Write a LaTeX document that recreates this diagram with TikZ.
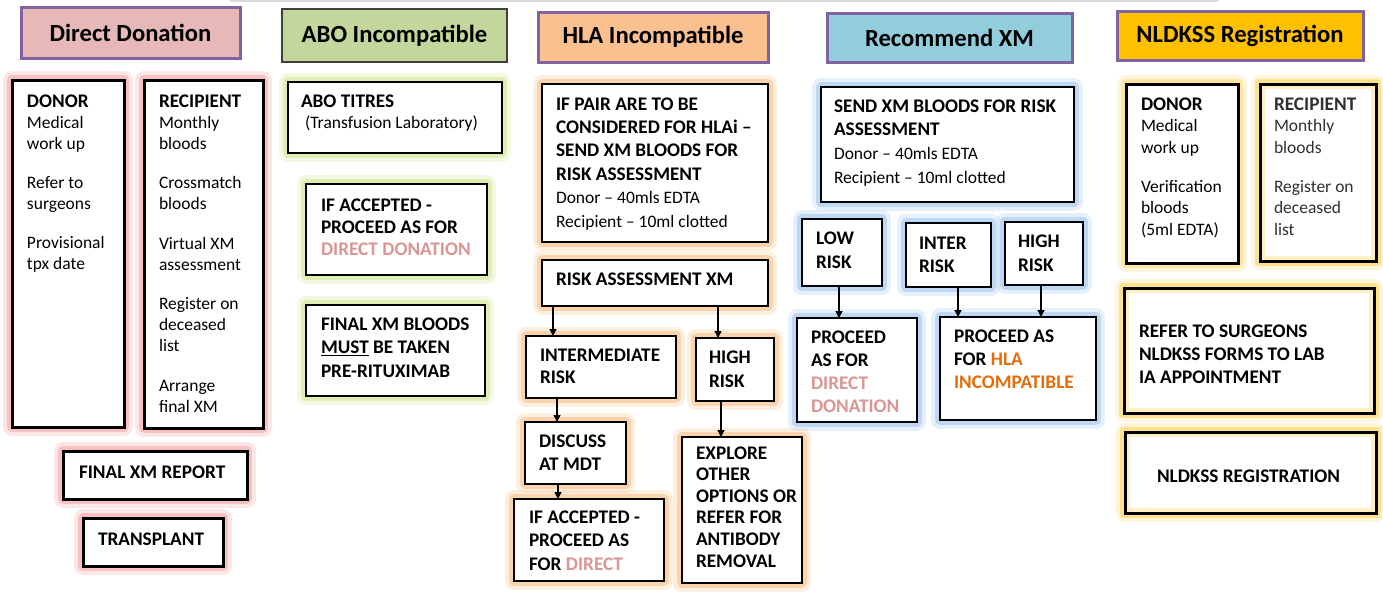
\documentclass[tikz,border=0pt]{standalone}
\usepackage{fontspec}
\setmainfont{Carlito}[BoldFeatures={Scale=1.1}]
\usetikzlibrary{arrows.meta}
\definecolor{ddfill}{HTML}{E6B9B8}
\definecolor{abofill}{HTML}{C3D69B}
\definecolor{hlafill}{HTML}{FAC090}
\definecolor{xmfill}{HTML}{92CDDC}
\definecolor{nlfill}{HTML}{FFC000}
\definecolor{purp}{HTML}{8064A2}
\definecolor{darkgr}{HTML}{3F3F3F}
\definecolor{ddglow}{HTML}{F4A0A0}
\definecolor{aboglow}{HTML}{CFE58F}
\definecolor{hlaglow}{HTML}{F9BE84}
\definecolor{xmglow}{HTML}{9CC2EE}
\definecolor{nlglow}{HTML}{FFD86E}
\definecolor{pinktxt}{HTML}{D99694}
\definecolor{orangetxt}{HTML}{E46C0A}
\definecolor{topline}{HTML}{D9D9D9}
\definecolor{rectxt}{HTML}{303030}
\tikzset{
  x=1pt, y=-1pt,
  titlebox/.style={draw=purp, line width=3pt, inner sep=0pt, outer sep=0pt, anchor=north west,
    font=\fontsize{22.4}{26}\selectfont\bfseries},
  box/.style={draw=black, fill=white, inner sep=0pt, outer sep=0pt, anchor=north west},
  glow/.style={preaction={draw=#1, line width=18pt, opacity=.25, line join=round},
               preaction={draw=#1, line width=10pt, opacity=.55, line join=round}},
  iglow/.style={postaction={draw=#1, line width=10pt, opacity=.4},
                postaction={draw=black, line width=3pt}},
  txt/.style={anchor=north west, inner sep=0pt, outer sep=0pt, align=left},
  arr/.style={draw=black, line width=1.3pt, -{Triangle[length=7pt,width=7pt]}}
}
\newcommand\bx[6]{\node[#2, minimum width={#5-#3}, minimum height={#6-#4}] (#1) at (#3,#4) {};}
\newcommand\ttl[7]{\node[titlebox, #2, minimum width={#5-#3}, minimum height={#6-#4}] (#1) at (#3,#4) {#7};}
\newcommand\tx[6]{\node[txt, font=\fontsize{#4}{#5}\selectfont] (#1) at (#2,{#3-0.7*#5}) {\strut #6};}
\begin{document}
\begin{tikzpicture}
\useasboundingbox (0,0) rectangle (1383,595);
\draw[topline, line width=1.5pt] (230,0.75) -- (1218,0.75);

% ---------- titles
\ttl{tDD}{fill=ddfill}{21}{7}{240}{58}{Direct Donation}
\ttl{tABO}{fill=abofill, draw=darkgr, line width=2pt}{282}{9}{507}{62}{ABO Incompatible}
\ttl{tHLA}{fill=hlafill}{538}{12}{768}{62}{HLA Incompatible}
\ttl{tXM}{fill=xmfill}{827}{13}{1072}{62}{Recommend XM}
\ttl{tNL}{fill=nlfill}{1117}{11}{1363}{60}{NLDKSS Registration}

% ---------- Direct donation
\bx{ddDonor}{box, glow=ddglow, line width=3pt}{12}{80}{124}{427}
\bx{ddRec}{box, glow=ddglow, line width=3pt}{144}{80}{263}{428}
\bx{ddFinal}{box, glow=ddglow, line width=3pt}{63}{451}{247}{499}
\bx{ddTx}{box, glow=ddglow, line width=3pt}{83}{518}{223}{566}
\tx{ddDonorT}{27}{107}{17.5}{21}{\textbf{DONOR}\\Medical\\work up\\[18pt]Refer to\\surgeons\\[18pt]Provisional\\tpx date}
\tx{ddRecT}{159}{107}{17.5}{21}{\textbf{RECIPIENT}\\Monthly\\bloods\\[18.5pt]Crossmatch\\bloods\\[18.5pt]Virtual XM\\assessment\\[18.5pt]Register on\\deceased\\list\\[18.5pt]Arrange\\final XM}
\tx{ddFinalT}{79}{478}{17.5}{22}{\textbf{FINAL XM REPORT}}
\tx{ddTxT}{98}{545}{17.5}{22}{\textbf{TRANSPLANT}}

% ---------- ABO incompatible
\bx{aTit}{box, glow=aboglow, line width=1.5pt}{288}{82}{502}{153}
\bx{aAcc}{box, glow=aboglow, line width=1.5pt}{306}{184}{487}{275}
\bx{aFin}{box, glow=aboglow, line width=1.5pt}{306}{305}{485}{396}
\tx{aTitT}{301}{107}{17.5}{21}{\textbf{ABO TITRES}\\\hspace{4pt}(Transfusion Laboratory)}
\tx{aAccT}{321}{211}{17.5}{22}{\textbf{IF ACCEPTED -}\\\textbf{PROCEED AS FOR}\\\textbf{\textcolor{pinktxt}{DIRECT DONATION}}}
\tx{aFinT}{321}{330}{17.5}{23.5}{\textbf{FINAL XM BLOODS}\\\textbf{\underline{MUST} BE TAKEN}\\\textbf{PRE-RITUXIMAB}}

% ---------- HLA incompatible
\bx{hPair}{box, glow=hlaglow, line width=1.5pt}{542}{84}{768}{242}
\bx{hRisk}{box, glow=hlaglow, line width=1.5pt}{542}{260}{768}{306}
\bx{hInter}{box, glow=hlaglow, line width=1.5pt}{526}{336}{676}{398}
\bx{hHigh}{box, glow=hlaglow, line width=1.5pt}{696}{338}{774}{401}
\bx{hMdt}{box, glow=hlaglow, line width=1.5pt}{525}{422}{626}{484}
\bx{hAcc}{box, glow=hlaglow, line width=1.5pt}{514}{499}{664}{581}
\bx{hExp}{box, glow=hlaglow, line width=1.5pt}{682}{437}{802}{583}
\tx{hPairT}{556}{110}{17.5}{23.4}{\textbf{IF PAIR ARE TO BE}\\\textbf{CONSIDERED FOR HLAi –}\\\textbf{SEND XM BLOODS FOR}\\\textbf{RISK ASSESSMENT}\\Donor – 40mls EDTA\\Recipient – 10ml clotted}
\tx{hRiskT}{556}{285}{17.5}{22}{\textbf{RISK ASSESSMENT XM}}
\tx{hInterT}{540}{361}{17.5}{22.5}{\textbf{INTERMEDIATE}\\\textbf{RISK}}
\tx{hHighT}{709}{363}{17.5}{24}{\textbf{HIGH}\\\textbf{RISK}}
\tx{hMdtT}{539}{447}{17.5}{23}{\textbf{DISCUSS}\\\textbf{AT MDT}}
\tx{hAccT}{529}{523}{17.5}{23.5}{\textbf{IF ACCEPTED -}\\\textbf{PROCEED AS}\\\textbf{FOR \textcolor{pinktxt}{DIRECT}}}
\tx{hExpT}{696}{459}{17.5}{21.6}{\textbf{EXPLORE}\\\textbf{OTHER}\\\textbf{OPTIONS OR}\\\textbf{REFER FOR}\\\textbf{ANTIBODY}\\\textbf{REMOVAL}}
\draw[arr] ([xshift=11pt]hRisk.south west) -- ([xshift=27pt]hInter.north west);
\draw[arr] ([xshift=176pt]hRisk.south west) -- ([xshift=22pt]hHigh.north west);
\draw[arr] ([xshift=31pt]hInter.south west) -- ([xshift=32pt]hMdt.north west);
\draw[arr] ([xshift=33pt]hMdt.south west) -- ([xshift=44pt]hAcc.north west);
\draw[arr] ([xshift=25pt]hHigh.south west) -- ([xshift=39pt]hExp.north west);

% ---------- Recommend XM
\bx{xSend}{box, glow=xmglow, line width=2pt}{821}{87}{1074}{202}
\bx{xLow}{box, glow=xmglow, line width=2pt}{802}{219}{882}{286}
\bx{xInter}{box, glow=xmglow, line width=2pt}{906}{223}{991}{287}
\bx{xHigh}{box, glow=xmglow, line width=2pt}{1005}{222}{1083}{285}
\bx{xDD}{box, glow=xmglow, line width=2pt}{797}{318}{917}{422}
\bx{xHLA}{box, glow=xmglow, line width=2pt}{940}{317}{1096}{420}
\tx{xSendT}{834}{112}{17.5}{23.7}{\textbf{SEND XM BLOODS FOR RISK}\\\textbf{ASSESSMENT}\\Donor – 40mls EDTA\\Recipient – 10ml clotted}
\tx{xLowT}{816}{244}{17.5}{24}{\textbf{LOW}\\\textbf{RISK}}
\tx{xInterT}{919}{249}{17.5}{23}{\textbf{INTER}\\\textbf{RISK}}
\tx{xHighT}{1018}{247}{17.5}{24}{\textbf{HIGH}\\\textbf{RISK}}
\tx{xDDT}{811}{343}{17.5}{23.3}{\textbf{PROCEED}\\\textbf{AS FOR}\\\textbf{\textcolor{pinktxt}{DIRECT}}\\\textbf{\textcolor{pinktxt}{DONATION}}}
\tx{xHLAT}{954}{342}{17.5}{23}{\textbf{PROCEED AS}\\\textbf{FOR \textcolor{orangetxt}{HLA}}\\\textbf{\textcolor{orangetxt}{INCOMPATIBLE}}}
\draw[arr] ([xshift=37pt]xLow.south west) -- ([xshift=42pt]xDD.north west);
\draw[arr] ([xshift=52pt]xInter.south west) -- ([xshift=18pt]xHLA.north west);
\draw[arr] ([xshift=36pt]xHigh.south west) -- ([xshift=101pt]xHLA.north west);

% ---------- NLDKSS registration
\bx{nDonor}{box, glow=nlglow, line width=3pt}{1126}{84}{1238}{263}
\bx{nRec}{box, glow=nlglow, iglow=nlglow, line width=3pt}{1260}{84}{1376}{261}
\bx{nRefer}{box, glow=nlglow, iglow=nlglow, line width=3pt}{1124}{288}{1374}{413}
\bx{nReg}{box, glow=nlglow, iglow=nlglow, line width=3pt}{1125}{432}{1376}{513}
\tx{nDonorT}{1141}{110}{17.5}{21.5}{\textbf{DONOR}\\Medical\\work up\\[17.5pt]Verification\\bloods\\(5ml EDTA)}
\tx{nRecT}{1274}{110}{17.5}{21.5}{\textbf{\textcolor{rectxt}{RECIPIENT}}\\\textcolor{rectxt}{Monthly}\\\textcolor{rectxt}{bloods}\\[17.5pt]\textcolor{rectxt}{Register on}\\\textcolor{rectxt}{deceased}\\\textcolor{rectxt}{list}}
\tx{nReferT}{1139}{337}{17.5}{23.2}{\textbf{REFER TO SURGEONS}\\\textbf{NLDKSS FORMS TO LAB}\\\textbf{IA APPOINTMENT}}
\tx{nRegT}{1157}{482}{17.5}{22}{\textbf{NLDKSS REGISTRATION}}
\end{tikzpicture}
\end{document}
